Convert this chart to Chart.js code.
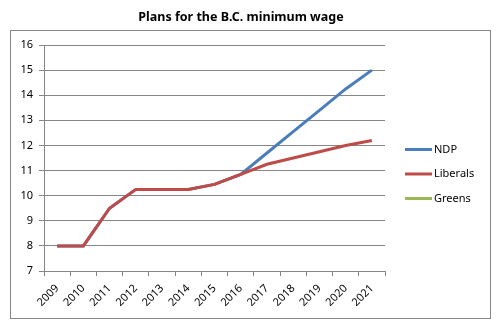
<!DOCTYPE html>
<html>
<head>
<meta charset="utf-8">
<script src="https://cdn.jsdelivr.net/npm/chart.js@4.4.1/dist/chart.umd.min.js"></script>
<style>
    html, body { margin: 0; padding: 0; background: #fff; }
</style>
</head>
<body>
<canvas id="wageChart" width="499" height="325"></canvas>
<script>
// Chart data
const years = ["2009", "2010", "2011", "2012", "2013", "2014", "2015", "2016", "2017", "2018", "2019", "2020", "2021"];
const ndpWage = [8, 8, 9.5, 10.25, 10.25, 10.25, 10.45, 10.85, 11.7, 12.55, 13.4, 14.25, 15];
const liberalWage = [8, 8, 9.5, 10.25, 10.25, 10.25, 10.45, 10.85, 11.25, 11.5, 11.75, 12, 12.2];
const greenWage = [null, null, null, null, null, null, null, null, null, null, null, null, null];
const yMin = 7;
const yMax = 16;
const chartTitle = "Plans for the B.C. minimum wage";

const FONT = "'Noto Sans', 'DejaVu Sans', sans-serif";
const GRID = "#868686";

// white background, title over the whole frame, outer frame
const framePlugin = {
    id: "frame",
    beforeDraw(chart) {
        const ctx = chart.ctx;
        ctx.save();
        ctx.fillStyle = "#fff";
        ctx.fillRect(0, 0, chart.width, chart.height);
        ctx.restore();
    },
    afterDraw(chart) {
        const ctx = chart.ctx;
        ctx.save();
        ctx.strokeStyle = GRID;
        ctx.lineWidth = 1;
        ctx.strokeRect(10.5, 30.5, 480, 288);
        ctx.font = "bold 12.5px " + FONT;
        ctx.fillStyle = "#000";
        ctx.textAlign = "center";
        ctx.textBaseline = "middle";
        ctx.fillText(chartTitle, 241, 17);
        ctx.restore();
    }
};

// Excel-style legend to the right of the plot
const sideLegend = {
    id: "sideLegend",
    afterDraw(chart) {
        const ctx = chart.ctx;
        const left = chart.chartArea.right + 20;
        ctx.save();
        ctx.font = "11px " + FONT;
        ctx.textBaseline = "middle";
        ctx.fillStyle = "#000";
        chart.data.datasets.forEach((ds, i) => {
            const y = 149.5 + i * 24.5;
            ctx.strokeStyle = ds.borderColor;
            ctx.lineWidth = 3;
            ctx.beginPath();
            ctx.moveTo(left, y);
            ctx.lineTo(left + 27, y);
            ctx.stroke();
            ctx.fillText(ds.label, left + 29, y);
        });
        ctx.restore();
    }
};

const ctx = document.getElementById("wageChart").getContext("2d");
new Chart(ctx, {
    type: "line",
    data: {
        labels: years,
        datasets: [
            { label: "NDP", data: ndpWage, borderColor: "#4a7ebb", order: 1 },
            { label: "Liberals", data: liberalWage, borderColor: "#be4b48", order: 0 },
            { label: "Greens", data: greenWage, borderColor: "#98b954", order: 2 }
        ]
    },
    options: {
        responsive: false,
        animation: false,
        layout: { padding: { top: 45, left: 0, right: 114, bottom: 0 } },
        elements: {
            line: { borderWidth: 3, tension: 0 },
            point: { radius: 0, hoverRadius: 0 }
        },
        plugins: {
            legend: { display: false },
            tooltip: { enabled: false },
            title: { display: false }
        },
        scales: {
            x: {
                offset: true,
                grid: { drawOnChartArea: false, drawTicks: true, tickLength: 5, color: GRID, offset: true },
                border: { color: GRID },
                ticks: {
                    color: "#000",
                    font: { family: FONT, size: 11 },
                    minRotation: 45,
                    maxRotation: 45,
                    autoSkip: false,
                    padding: 6
                },
                afterFit(scale) { scale.height = 54; }
            },
            y: {
                min: yMin,
                max: yMax,
                grid: { color: GRID, tickLength: 5 },
                border: { color: GRID },
                ticks: {
                    stepSize: 1,
                    color: "#000",
                    font: { family: FONT, size: 11 },
                    padding: 6
                },
                afterFit(scale) { scale.width = 44; }
            }
        }
    },
    plugins: [framePlugin, sideLegend]
});
</script>
</body>
</html>
